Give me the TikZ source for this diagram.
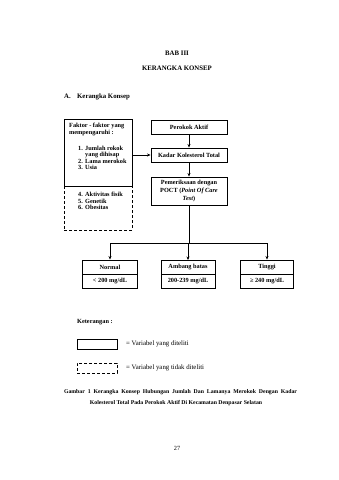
\documentclass[tikz,border=0pt]{standalone}
\usepackage{fontspec}
\setmainfont{Liberation Serif}
\usetikzlibrary{arrows.meta}
\newcommand\bxfont{\fontsize{6.3}{7}\selectfont\bfseries}
\newcommand\capfont{\fontsize{5.8}{7}\selectfont\bfseries}
\newcommand\ttlfont{\fontsize{6.8}{8}\selectfont\bfseries}
\newcommand\rgfont{\fontsize{6.8}{8}\selectfont}
\tikzset{
  box/.style={draw, line width=0.9pt, inner sep=0pt, font=\bxfont, align=center},
  dbox/.style={box, dash pattern=on 3pt off 2pt},
  arr/.style={-{Stealth[length=3.5pt,width=3pt]}, line width=0.6pt},
  conn/.style={line width=0.6pt},
  lbl/.style={inner sep=0pt, font=\bxfont, anchor=base west},
  txt/.style={inner sep=0pt}
}
\begin{document}
\begin{tikzpicture}[x=1pt,y=-1pt]
\fill[white] (0,0) rectangle (339,480);
\useasboundingbox (0,0) rectangle (339,480);

% headings
\node[txt, font=\ttlfont] (bab) at (177,53) {BAB III};
\node[txt, font=\ttlfont] (kk) at (177,68) {KERANGKA KONSEP};
\node[txt, font=\ttlfont, anchor=west] (seca) at (64,97) {\makebox[13pt][l]{A.}Kerangka Konsep};

% left boxes
\node[box, minimum width=68pt, minimum height=67pt] (faktor) at (98,152.5) {};
\node[dbox, minimum width=68pt, minimum height=44pt] (faktorb) at (98,208) {};
\node[lbl] (f1) at (69,127.8) {Faktor - faktor yang};
\node[lbl] (f2) at (69,134.8) {mempengaruhi :};
\node[lbl] (f3) at (78,150.3) {\makebox[7pt][l]{1.}Jumlah rokok};
\node[lbl] (f4) at (85,156.8) {yang dihisap};
\node[lbl] (f5) at (78,163.3) {\makebox[7pt][l]{2.}Lama merokok};
\node[lbl] (f6) at (78,169.8) {\makebox[7pt][l]{3.}Usia};
\node[lbl] (f7) at (78,196.8) {\makebox[7pt][l]{4.}Aktivitas fisik};
\node[lbl] (f8) at (78,203.3) {\makebox[7pt][l]{5.}Genetik};
\node[lbl] (f9) at (78,209.8) {\makebox[7pt][l]{6.}Obesitas};

% main column
\node[box, minimum width=76pt, minimum height=14pt] (perokok) at (189,127) {Perokok Aktif};
\node[box, minimum width=76pt, minimum height=14pt] (kadar) at (189,155) {Kadar Kolesterol Total};
\node[box, minimum width=76pt, minimum height=28pt, font=\fontsize{6.3}{7.6}\selectfont\bfseries] (pem) at (189,191)
  {Pemeriksaan dengan\\POCT (\textit{Point Of Care}\\\textit{Test})};

\draw[arr] (perokok) -- (kadar);
\draw[arr] (kadar) -- (pem);
\draw[arr] (faktor.east |- kadar) -- (kadar.west);

% result boxes
\node[box, minimum width=55pt, minimum height=14pt] (normal) at (110,267) {Normal};
\node[box, minimum width=55pt, minimum height=14pt] (normalv) at (110,281) {\textless{} 200 mg/dL};
\node[box, minimum width=54pt, minimum height=14pt] (ambang) at (188,267.5) {Ambang batas};
\node[box, minimum width=54pt, minimum height=14pt] (ambangv) at (188,281.5) {200-239 mg/dL};
\node[box, minimum width=53pt, minimum height=14pt] (tinggi) at (267,267) {Tinggi};
\node[box, minimum width=53pt, minimum height=14pt] (tinggiv) at (267,281) {≥ 240 mg/dL};

\coordinate (j) at (189,243);
\draw[conn] (pem.south) -- (j);
\draw[conn] (j -| normal) -- (j -| tinggi);
\draw[arr] (j -| normal) -- (normal.north);
\draw[arr] (j -| ambang) -- (ambang.north);
\draw[arr] (j -| tinggi) -- (tinggi.north);

% legend
\node[txt, font=\bxfont, anchor=west] (ket) at (77,322) {Keterangan :};
\node[box, minimum width=40pt, minimum height=10pt] (lsolid) at (97,344) {};
\node[dbox, minimum width=40pt, minimum height=10pt] (ldash) at (97,368) {};
\node[txt, font=\rgfont, anchor=west] (lt1) at (126,344) {= Variabel yang diteliti};
\node[txt, font=\rgfont, anchor=west] (lt2) at (126,368) {= Variabel yang tidak diteliti};

% caption
\node[txt, font=\capfont] (cap1) at (180.5,392) {\makebox[233pt][s]{Gambar 1 Kerangka Konsep Hubungan Jumlah Dan Lamanya Merokok Dengan Kadar}};
\node[txt, font=\capfont] (cap2) at (176,403) {Kolesterol Total Pada Perokok Aktif Di Kecamatan Denpasar Selatan};

\node[txt, font=\fontsize{6.3}{7}\selectfont] (pg) at (177,448) {27};
\end{tikzpicture}
\end{document}
